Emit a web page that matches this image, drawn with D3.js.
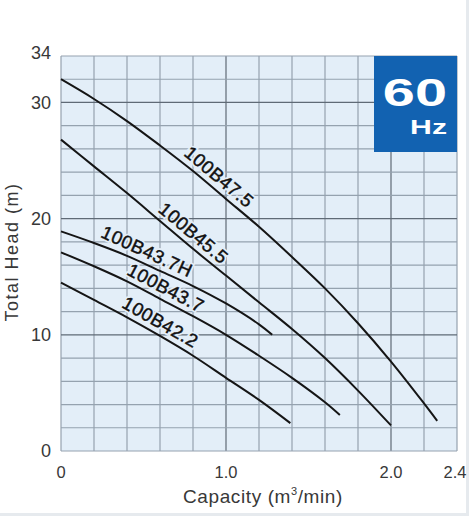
<!DOCTYPE html>
<html>
<head>
<meta charset="utf-8">
<script src="https://cdn.jsdelivr.net/npm/d3@7"></script>
<style>
  body { margin: 0; background: #fff; }
  svg { display: block; font-family: "Liberation Sans", Arial, sans-serif; }
</style>
</head>
<body>
<div class="wrapper"></div>
<script>
var width = 469,
    height = 517;

// tick labels
var capacityTicks = [0, 1.0, 2.0, 2.4];
var headTicks = [0, 10, 20, 30, 34];

// model names
var models = ["100B47.5", "100B45.5", "100B43.7H", "100B43.7", "100B42.2"];

// capacity (m3/min) / head (m)
var q47_5 = [0, 0.2, 0.4, 0.6, 0.8, 1.0, 1.2, 1.4, 1.6, 1.8, 2.0, 2.2, 2.28];
var h47_5 = [32.0, 30.3, 28.4, 26.3, 24.1, 21.7, 19.3, 16.7, 14.0, 11.0, 7.7, 4.1, 2.6];

var q45_5 = [0, 0.2, 0.4, 0.6, 0.8, 1.0, 1.2, 1.4, 1.6, 1.8, 2.0];
var h45_5 = [26.8, 24.5, 22.2, 19.8, 17.4, 15.1, 12.8, 10.5, 8.0, 5.2, 2.2];

var q43_7H = [0, 0.2, 0.4, 0.6, 0.8, 1.0, 1.2, 1.28];
var h43_7H = [18.9, 17.9, 16.8, 15.5, 14.2, 12.7, 10.9, 10.0];

var q43_7 = [0, 0.2, 0.4, 0.6, 0.8, 1.0, 1.2, 1.4, 1.6, 1.69];
var h43_7 = [17.1, 15.9, 14.6, 13.1, 11.6, 10.0, 8.2, 6.3, 4.2, 3.1];

var q42_2 = [0, 0.2, 0.4, 0.6, 0.8, 1.0, 1.2, 1.39];
var h42_2 = [14.5, 13.0, 11.5, 9.9, 8.2, 6.3, 4.4, 2.4];

// where along each curve (capacity) its name sits
var labelAt = [0.91, 0.755, 0.49, 0.60, 0.565];

var curves = [
  [q47_5, h47_5], [q45_5, h45_5], [q43_7H, h43_7H], [q43_7, h43_7], [q42_2, h42_2]
].map(function(c, i) {
  return { name: models[i], label: labelAt[i],
           pts: c[0].map(function(q, j) { return [q, c[1][j]]; }) };
});

var x = d3.scaleLinear().domain([0, 2.4]).range([61, 457]);
var y = d3.scaleLinear().domain([0, 34]).range([451, 56]);

var svg = d3.select(".wrapper").append("svg")
    .attr("width", width)
    .attr("height", height);

// faint frame of the picture
svg.append("path")
    .attr("d", "M467.5,0V514.5H0")
    .attr("fill", "none")
    .attr("stroke", "#e6eaee")
    .attr("stroke-width", 3);

// plot background
svg.append("rect")
    .attr("x", x(0)).attr("y", y(34))
    .attr("width", x(2.4) - x(0)).attr("height", y(0) - y(34))
    .attr("fill", "#e3eef8");

var grid = svg.append("g");
grid.selectAll(".gx")
    .data(d3.range(0, 13).map(function(i) { return i * 0.2; }))
  .enter().append("line")
    .attr("x1", function(d) { return x(d); }).attr("x2", function(d) { return x(d); })
    .attr("y1", y(0)).attr("y2", y(34))
    .attr("stroke", function(d, i) { return (i == 5 || i == 10) ? "#5f6a76" : "#95a2af"; })
    .attr("stroke-width", 1.2);
grid.selectAll(".gy")
    .data(d3.range(0, 18).map(function(i) { return i * 2; }))
  .enter().append("line")
    .attr("y1", function(d) { return y(d); }).attr("y2", function(d) { return y(d); })
    .attr("x1", x(0)).attr("x2", x(2.4))
    .attr("stroke", function(d) { return (d == 10 || d == 20 || d == 30) ? "#5f6a76" : "#95a2af"; })
    .attr("stroke-width", 1.2);

// y ticks
svg.selectAll(".ty")
    .data(headTicks)
  .enter().append("text")
    .attr("x", 51)
    .attr("y", function(d) { return y(d) + (d == 34 ? -3 : 0); })
    .attr("dy", "0.36em")
    .attr("text-anchor", "end")
    .attr("font-size", 18)
    .attr("fill", "#383838")
    .text(function(d) { return d; });

// x ticks
svg.selectAll(".tx")
    .data(capacityTicks)
  .enter().append("text")
    .attr("x", function(d) { return x(d) - (d == 2.4 ? 2 : 0); })
    .attr("y", 478)
    .attr("text-anchor", "middle")
    .attr("font-size", 16.5)
    .attr("fill", "#383838")
    .text(function(d) { return d == 0 ? "0" : d3.format(".1f")(d); });

// axis titles
var xt = svg.append("text")
    .attr("x", 263).attr("y", 503)
    .attr("text-anchor", "middle")
    .attr("font-size", 19)
    .attr("letter-spacing", 0.6)
    .attr("fill", "#383838");
xt.append("tspan").text("Capacity (m");
xt.append("tspan").attr("font-size", 11).attr("dy", -8).text("3");
xt.append("tspan").attr("dy", 8).text("/min)");

svg.append("text")
    .attr("transform", "translate(18,252) rotate(-90)")
    .attr("text-anchor", "middle")
    .attr("font-size", 18)
    .attr("letter-spacing", 1.5)
    .attr("fill", "#383838")
    .text("Total Head (m)");

// performance curves
var line = d3.line()
    .x(function(d) { return x(d[0]); })
    .y(function(d) { return y(d[1]); })
    .curve(d3.curveCatmullRom.alpha(0.5));

svg.selectAll(".curve")
    .data(curves)
  .enter().append("path")
    .attr("d", function(d) { return line(d.pts); })
    .attr("fill", "none")
    .attr("stroke", "#151515")
    .attr("stroke-width", 2);

function headAt(pts, q) {
  var qs = pts.map(function(p) { return p[0]; }),
      hs = pts.map(function(p) { return p[1]; });
  return d3.scaleLinear().domain(qs).range(hs)(q);
}

function labelPos(d) {
  var q = d.label,
      px = x(q), py = y(headAt(d.pts, q)),
      dx = x(q + 0.05) - x(q - 0.05),
      dy = y(headAt(d.pts, q + 0.05)) - y(headAt(d.pts, q - 0.05)),
      a = Math.atan2(dy, dx) * 180 / Math.PI;
  return "translate(" + px + "," + py + ") rotate(" + a + ")";
}

// halo behind the names hides the grid, as in the original
[["#e3eef8", 4], ["#111", 0.45]].forEach(function(s) {
  svg.selectAll(null)
      .data(curves)
    .enter().append("text")
      .attr("transform", labelPos)
      .attr("dy", -6)
      .attr("text-anchor", "middle")
      .attr("font-size", 18.5)
      .attr("letter-spacing", 0.6)
      .attr("fill", "#111")
      .attr("stroke", s[0])
      .attr("stroke-width", s[1])
      .text(function(d) { return d.name; });
});

// 60 Hz badge (its lettering is stretched wide)
var badge = svg.append("g");
badge.append("rect")
    .attr("x", 374).attr("y", 56)
    .attr("width", x(2.4) - 374).attr("height", 96)
    .attr("fill", "#1262b1");
badge.append("text")
    .attr("transform", "translate(447,105.5) scale(1.48,1)")
    .attr("text-anchor", "end")
    .attr("font-size", 39)
    .attr("font-weight", "bold")
    .attr("fill", "#fff")
    .text("60");
badge.append("text")
    .attr("transform", "translate(447,133.5) scale(1.44,1)")
    .attr("text-anchor", "end")
    .attr("font-size", 21)
    .attr("font-weight", "bold")
    .attr("fill", "#fff")
    .text("Hz");
</script>
</body>
</html>
